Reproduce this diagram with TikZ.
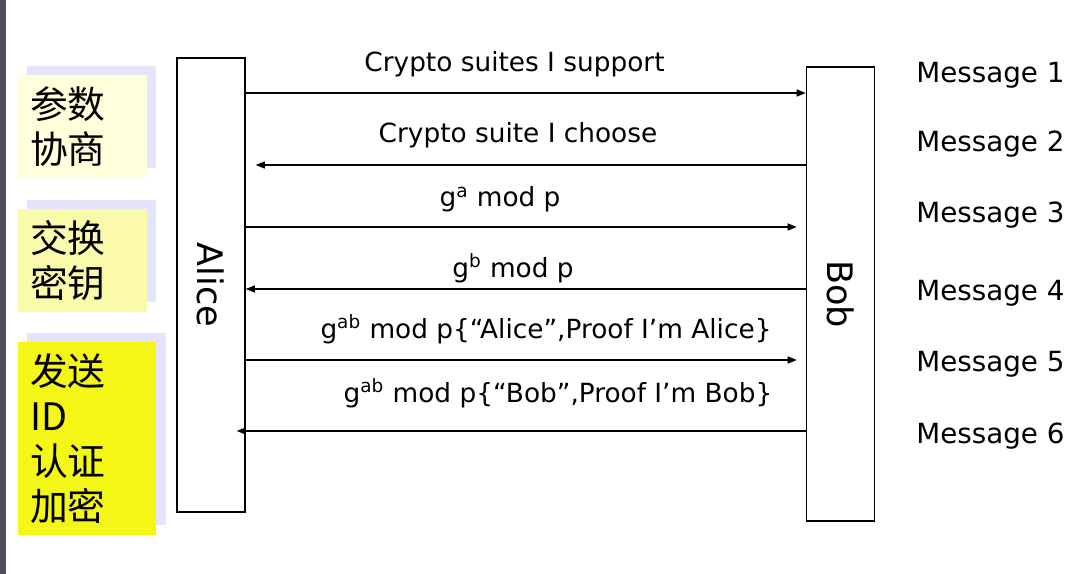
\documentclass[tikz,border=0pt]{standalone}
\usepackage{fontspec}
\setmainfont{DejaVu Sans}
\newfontfamily\cjk{Noto Sans CJK SC}
\usetikzlibrary{arrows.meta, shadows}
\definecolor{sidebar}{HTML}{4B5057}
\definecolor{shadowblue}{HTML}{E4E4FC}
\definecolor{paleyellow}{HTML}{FFFFDC}
\definecolor{softyellow}{HTML}{FAFAAA}
\definecolor{brightyellow}{HTML}{F4F716}
\tikzset{
  party/.style={draw, line width=0.9pt, minimum width=1.36cm,
                minimum height=9.08cm, inner sep=0pt},
  partyname/.style={rotate=-90, inner sep=0pt,
                    font=\fontsize{20pt}{23pt}\selectfont},
  phase/.style={general shadow={fill=shadowblue, shadow xshift=0.18cm,
                shadow yshift=0.19cm}, text width=2.1cm, align=left,
                inner xsep=0.24cm, inner ysep=0pt, minimum height=2.06cm,
                font=\cjk\fontsize{21.5pt}{25.5pt}\selectfont},
  msg/.style={-{Triangle[length=1.8mm,width=1.4mm]}, line width=0.7pt},
  msglabel/.style={anchor=base, inner sep=0pt,
                   font=\fontsize{15pt}{17pt}\selectfont},
  tag/.style={anchor=base west, inner sep=0pt,
              font=\fontsize{15.8pt}{18pt}\selectfont}
}
\begin{document}
\begin{tikzpicture}[x=0.02cm, y=-0.02cm]
  \useasboundingbox (0,0) rectangle (1089,574);
  \fill[sidebar] (0,0) rectangle (6,574);

  % phases on the left
  \node[phase, fill=paleyellow] (nego) at (82.5,126.5) {参数\\协商};
  \node[phase, fill=softyellow] (keyx) at (82.5,260.5) {交换\\密钥};
  \node[phase, fill=brightyellow, text width=2.28cm, minimum height=3.86cm,
        general shadow={fill=shadowblue, shadow xshift=0.2cm, shadow yshift=0.19cm}]
    (auth) at (87,438.5) {发送\\ID\\认证\\加密};

  % the two parties
  \node[party] (alice) at (211,285) {};
  \node[partyname] (alicename) at (alice.center) {Alice};
  \node[party] (bob) at (840.5,294) {};
  \node[partyname] (bobname) at (bob.center) {Bob};

  % messages
  \foreach \i/\y/\a/\b/\cut in {1/93/alice.east/bob.west/0,
                                2/165/bob.west/alice.east/0.2,
                                3/227/alice.east/bob.west/0.18,
                                4/289/bob.west/alice.east/0,
                                5/360/alice.east/bob.west/0.18,
                                6/431/bob.west/alice.east/-0.18}{
    \coordinate (row\i) at (0,\y);
    \draw[msg, shorten >=\cut cm] (\a |- row\i) -- (\b |- row\i);
  }

  \node[msglabel] (label1) at (514.5,72) {Crypto suites I support};
  \node[msglabel] (label2) at (518,143) {Crypto suite I choose};
  \node[msglabel] (label3) at (500,207) {g\textsuperscript{a} mod p};
  \node[msglabel] (label4) at (513,277) {g\textsuperscript{b} mod p};
  \node[msglabel] (label5) at (546,338)
    {g\textsuperscript{ab} mod p\{“Alice”,Proof I’m Alice\}};
  \node[msglabel] (label6) at (558,402)
    {g\textsuperscript{ab} mod p\{“Bob”,Proof I’m Bob\}};

  \foreach \i/\y in {1/83,2/152,3/223,4/300,5/372,6/443}
    \node[tag] (tag\i) at (916,\y) {Message \i};
\end{tikzpicture}
\end{document}
